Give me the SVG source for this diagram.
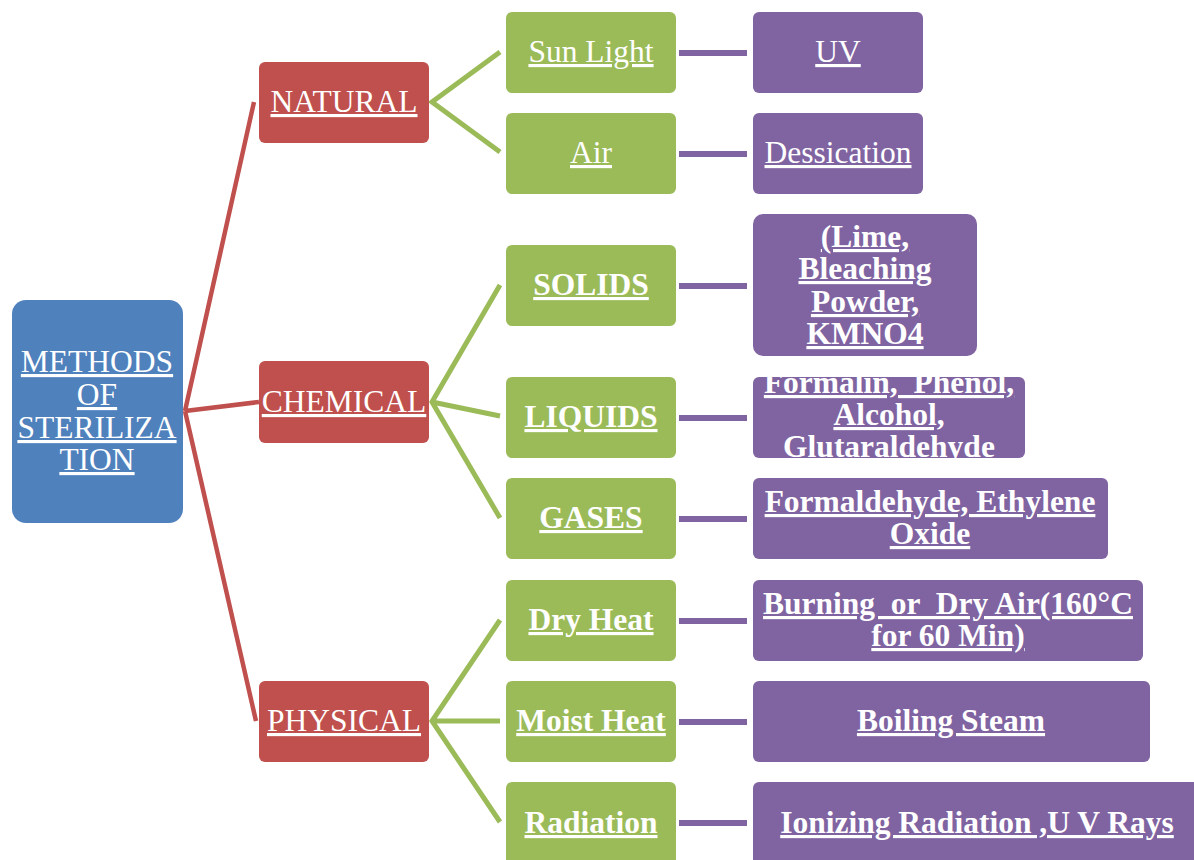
<svg xmlns="http://www.w3.org/2000/svg" width="1194" height="860" viewBox="0 0 1194 860">
  <style>
    .t { font-family: "Liberation Serif", "Times New Roman", serif; font-size: 31.5px; fill: #ffffff; text-anchor: middle; text-decoration: underline; white-space: pre; }
    .b { font-weight: bold; }
    .root { fill: #4F81BD; }
    .red { fill: #C0504D; }
    .green { fill: #9BBB59; }
    .purple { fill: #8064A2; }
    .cr { stroke: #C0504D; stroke-width: 4.5; fill: none; }
    .cg { stroke: #9BBB59; stroke-width: 5; fill: none; }
    .cp { stroke: #8064A2; stroke-width: 6; fill: none; }
  </style>
  <defs>
    <clipPath id="clipLiquids">
      <rect x="753" y="377" width="272" height="81" rx="6"/>
    </clipPath>
  </defs>
  <rect width="1194" height="860" fill="#ffffff"/>

  <g id="connectors">
    <path class="cr" d="M185 411 L254 102 M185 411 L259 402 M185 411 L256 721"/>
    <path class="cg" d="M500 52 L432 102 L500 152"/>
    <path class="cg" d="M500 285 L432 402 L500 518 M432 402 L500 416"/>
    <path class="cg" d="M500 620 L432 721 L500 822 M432 721 L500 721"/>
    <path class="cp" d="M679 53 H747 M679 154 H747 M679 286 H747 M679 418 H747 M679 519 H747 M679 621 H747 M679 722 H747 M679 823 H747"/>
  </g>

  <g id="root">
    <rect class="root" x="12" y="300" width="171" height="223" rx="14"/>
    <text class="t" x="97" y="372">METHODS</text>
    <text class="t" x="97" y="405">OF</text>
    <text class="t" x="97" y="438">STERILIZA</text>
    <text class="t" x="97" y="470">TION</text>
  </g>

  <g id="natural">
    <rect class="red" x="259" y="62" width="170" height="81" rx="6"/>
    <text class="t" x="344" y="112">NATURAL</text>
  </g>
  <g id="chemical">
    <rect class="red" x="259" y="361" width="170" height="82" rx="6"/>
    <text class="t" x="344" y="412">CHEMICAL</text>
  </g>
  <g id="physical">
    <rect class="red" x="259" y="681" width="170" height="81" rx="6"/>
    <text class="t" x="344" y="731">PHYSICAL</text>
  </g>

  <g id="sunlight">
    <rect class="green" x="506" y="12" width="170" height="81" rx="6"/>
    <text class="t" x="591" y="62">Sun Light</text>
  </g>
  <g id="air">
    <rect class="green" x="506" y="113" width="170" height="81" rx="6"/>
    <text class="t" x="591" y="163">Air</text>
  </g>
  <g id="solids">
    <rect class="green" x="506" y="245" width="170" height="81" rx="6"/>
    <text class="t b" x="591" y="295">SOLIDS</text>
  </g>
  <g id="liquids">
    <rect class="green" x="506" y="377" width="170" height="81" rx="6"/>
    <text class="t b" x="591" y="427">LIQUIDS</text>
  </g>
  <g id="gases">
    <rect class="green" x="506" y="478" width="170" height="81" rx="6"/>
    <text class="t b" x="591" y="528">GASES</text>
  </g>
  <g id="dryheat">
    <rect class="green" x="506" y="580" width="170" height="81" rx="6"/>
    <text class="t b" x="591" y="630">Dry Heat</text>
  </g>
  <g id="moistheat">
    <rect class="green" x="506" y="681" width="170" height="81" rx="6"/>
    <text class="t b" x="591" y="731">Moist Heat</text>
  </g>
  <g id="radiation">
    <rect class="green" x="506" y="782" width="170" height="84" rx="6"/>
    <text class="t b" x="591" y="833">Radiation</text>
  </g>

  <g id="uv">
    <rect class="purple" x="753" y="12" width="170" height="81" rx="6"/>
    <text class="t" x="838" y="62">UV</text>
  </g>
  <g id="dessication">
    <rect class="purple" x="753" y="113" width="170" height="81" rx="6"/>
    <text class="t" x="838" y="163">Dessication</text>
  </g>
  <g id="solids-agents">
    <rect class="purple" x="753" y="214" width="224" height="142" rx="10"/>
    <text class="t b" x="865" y="247">(Lime,</text>
    <text class="t b" x="865" y="279">Bleaching</text>
    <text class="t b" x="865" y="312">Powder,</text>
    <text class="t b" x="865" y="344">KMNO4</text>
  </g>
  <g id="liquid-agents">
    <rect class="purple" x="753" y="377" width="272" height="81" rx="6"/>
    <g clip-path="url(#clipLiquids)">
      <text class="t b" x="889" y="393">Formalin,  Phenol,</text>
      <text class="t b" x="889" y="425">Alcohol,</text>
      <text class="t b" x="889" y="457">Glutaraldehyde</text>
    </g>
  </g>
  <g id="gas-agents">
    <rect class="purple" x="753" y="478" width="355" height="81" rx="6"/>
    <text class="t b" x="930" y="512">Formaldehyde, Ethylene</text>
    <text class="t b" x="930" y="544">Oxide</text>
  </g>
  <g id="dryheat-methods">
    <rect class="purple" x="753" y="580" width="390" height="81" rx="6"/>
    <text class="t b" x="948" y="614">Burning  or  Dry Air(160°C</text>
    <text class="t b" x="948" y="646">for 60 Min)</text>
  </g>
  <g id="moistheat-methods">
    <rect class="purple" x="753" y="681" width="397" height="81" rx="6"/>
    <text class="t b" x="951" y="731">Boiling Steam</text>
  </g>
  <g id="radiation-methods">
    <rect class="purple" x="753" y="782" width="450" height="84" rx="6"/>
    <text class="t b" x="977" y="833">Ionizing Radiation ,U V Rays</text>
  </g>
</svg>
